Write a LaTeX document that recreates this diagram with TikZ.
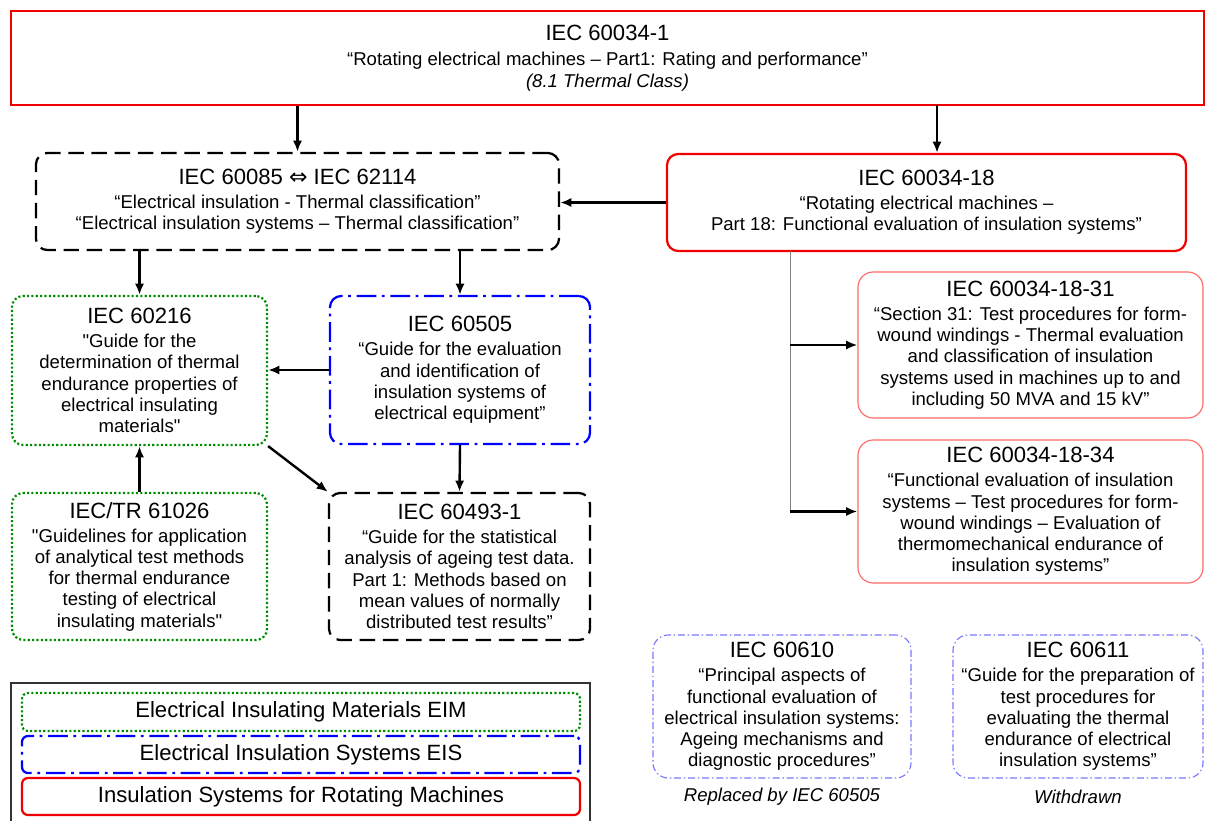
\documentclass[tikz,border=0pt]{standalone}
\usepackage{fontspec}
\setmainfont{Liberation Sans}
\newfontfamily\symfont{DejaVu Sans}
\usepackage{xcolor}
\usepackage{tikz}
\usetikzlibrary{arrows}
\usetikzlibrary{arrows.meta, positioning}
\definecolor{eimgreen}{RGB}{0,140,0}
\definecolor{eisblue}{RGB}{0,0,255}
\definecolor{rmred}{RGB}{240,0,0}
\definecolor{lightred}{RGB}{255,105,105}
\definecolor{lightblue}{RGB}{120,120,255}
\newcommand{\hdr}[1]{{\fontsize{15.7}{18}\selectfont #1}}

\begin{document}
\begin{tikzpicture}[x=0.025cm, y=-0.025cm,
		font=\fontsize{13.2}{15.1}\selectfont,
		box/.style 2 args={align=center, inner sep=0pt, minimum width=#1*0.025cm, minimum height=#2*0.025cm},
		eim/.style={draw=eimgreen, line width=1.6pt, dash pattern=on 1.5pt off 1.6pt, rounded corners=0.28cm},
		eis/.style={draw=eisblue, line width=1.6pt, dash pattern=on 14pt off 4pt on 2pt off 4pt, rounded corners=0.28cm},
		std/.style={draw=black, line width=1.6pt, dash pattern=on 11pt off 5.5pt, rounded corners=0.28cm},
		rm/.style={draw=rmred, line width=1.6pt},
		rmpart/.style={draw=lightred, line width=0.8pt, rounded corners=0.38cm},
		old/.style={draw=lightblue, line width=0.8pt, dash pattern=on 5pt off 2pt on 1pt off 2pt, rounded corners=0.38cm},
		arr/.style={-{Latex[length=8pt, width=6.5pt]}, line width=1.7pt}]
	\useasboundingbox (0,0) rectangle (1206,821);
	% main standards
	\node[box={1193}{94}, rm] (top) at (607.5,58) {\hdr{IEC 60034-1}\\[3pt] “Rotating electrical machines – Part1: Rating and performance”\\ \textit{(8.1 Thermal Class)}};
	\node[box={523}{97}, std] (cls) at (297.5,201.5) {\hdr{IEC 60085 {\symfont ⇔} IEC 62114}\\[2pt] “Electrical insulation - Thermal classification”\\ “Electrical insulation systems – Thermal classification”};
	\node[box={519}{97}, rm, rounded corners=0.28cm] (r18) at (926.5,202.5) {\hdr{IEC 60034-18}\\[2pt] “Rotating electrical machines –\\ Part 18: Functional evaluation of insulation systems”};
	\node[box={255}{149}, eim] (b216) at (139.5,370.5) {\hdr{IEC 60216}\\[2pt] \textquotedbl Guide for the\\ determination of thermal\\ endurance properties of\\ electrical insulating\\ materials\textquotedbl};
	\node[box={260}{148}, eis] (b505) at (460,370) {\hdr{IEC 60505}\\[2pt] “Guide for the evaluation\\ and identification of\\ insulation systems of\\ electrical equipment”};
	\node[box={255}{147}, eim] (b1026) at (139.5,566.5) {\hdr{IEC/TR 61026}\\[2pt] \textquotedbl Guidelines for application\\ of analytical test methods\\ for thermal endurance\\ testing of electrical\\ insulating materials\textquotedbl};
	\node[box={261}{147}, std] (b4931) at (459.5,566.5) {\hdr{IEC 60493-1}\\[2pt] “Guide for the statistical\\ analysis of ageing test data.\\ Part 1: Methods based on\\ mean values of normally\\ distributed test results”};
	% parts of 60034-18
	\node[box={345}{146}, rmpart] (b31) at (1030.5,345) {\hdr{IEC 60034-18-31}\\[2pt] “Section 31: Test procedures for form-\\ wound windings - Thermal evaluation\\ and classification of insulation\\ systems used in machines up to and\\ including 50 MVA and 15 kV”};
	\node[box={345}{143}, rmpart] (b34) at (1030.5,511.5) {\hdr{IEC 60034-18-34}\\[2pt] “Functional evaluation of insulation\\ systems – Test procedures for form-\\ wound windings – Evaluation of\\ thermomechanical endurance of\\ insulation systems”};
	% no longer valid
	\node[box={258}{143}, old] (b610) at (782,706.5) {\hdr{IEC 60610}\\[2pt] “Principal aspects of\\ functional evaluation of\\ electrical insulation systems:\\ Ageing mechanisms and\\ diagnostic procedures”};
	\node[box={250}{143}, old] (b611) at (1078,706.5) {\hdr{IEC 60611}\\[2pt] “Guide for the preparation of\\ test procedures for\\ evaluating the thermal\\ endurance of electrical\\ insulation systems”};
	\node (n610) at (782,797) {\textit{Replaced by IEC 60505}};
	\node (n611) at (1078,797) {\textit{Withdrawn}};
	% legend
	\draw[draw=black!80, line width=1pt] (11,683) rectangle (590,830);
	\node[box={558}{38}, eim, rounded corners=0.15cm] (lgeim) at (301,712) {\hdr{Electrical Insulating Materials EIM}};
	\node[box={558}{37}, eis, rounded corners=0.15cm] (lgeis) at (301,754.5) {\hdr{Electrical Insulation Systems EIS}};
	\node[box={558}{37}, rm, rounded corners=0.15cm] (lgrm) at (301,796.5) {\hdr{Insulation Systems for Rotating Machines}};
	% connections
	\coordinate (tr18) at (937,105);
	\coordinate (tr) at (790,251);
	\draw[arr] (top.south -| cls.north) -- (cls.north);
	\draw[arr] (tr18) -- (tr18 |- r18.north);
	\draw[arr] (r18.west) -- (cls.east |- r18.west);
	\draw[arr] (cls.south -| b216.north) -- (b216.north);
	\draw[arr] (cls.south -| b505.north) -- (b505.north);
	\draw[arr] (b505.west) -- (b216.east |- b505.west);
	\draw[arr] (b505.south) -- (b4931.north);
	\draw[arr] (b1026.north) -- (b216.south);
	\draw[arr] (b216.south east) -- (b4931.north west);
	\draw[gray, line width=0.6pt] (tr) -- (tr |- b34.west);
	\draw[arr] (tr |- b31.west) -- (b31.west);
	\draw[arr] (tr |- b34.west) -- (b34.west);
\end{tikzpicture}
\end{document}
